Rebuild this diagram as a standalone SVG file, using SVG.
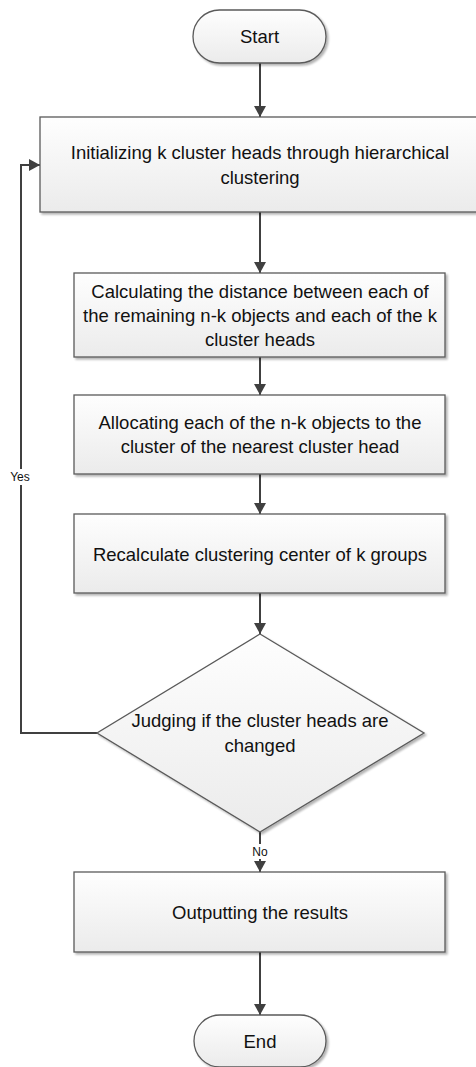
<svg xmlns="http://www.w3.org/2000/svg" width="476" height="1067" viewBox="0 0 476 1067">
<defs>
<linearGradient id="fill" x1="0" y1="0" x2="0" y2="1">
<stop offset="0" stop-color="#fefefe"/>
<stop offset="1" stop-color="#ebebeb"/>
</linearGradient>
<filter id="shadow" x="-5%" y="-5%" width="115%" height="120%">
<feGaussianBlur in="SourceAlpha" stdDeviation="1.2"/>
<feOffset dx="2" dy="2" result="b"/>
<feComponentTransfer><feFuncA type="linear" slope="0.3"/></feComponentTransfer>
<feMerge><feMergeNode/><feMergeNode in="SourceGraphic"/></feMerge>
</filter>
<marker id="arrow" markerUnits="userSpaceOnUse" markerWidth="12" markerHeight="12" refX="11" refY="6" orient="auto">
<path d="M0,0 L11,6 L0,12 z" fill="#404040"/>
</marker>
</defs>
<style>
.shape{fill:url(#fill);stroke:#5a5a5a;stroke-width:1.3;filter:url(#shadow)}
.txt{font-family:"Liberation Sans",Arial,sans-serif;font-size:18.5px;fill:#111;text-anchor:middle}
.lbl{font-family:"Liberation Sans",Arial,sans-serif;font-size:12px;fill:#111;text-anchor:middle}
.conn{fill:none;stroke:#404040;stroke-width:2;marker-end:url(#arrow)}
.line{fill:none;stroke:#404040;stroke-width:2}
</style>
<g id="connectors">
<line class="conn" x1="260" y1="63" x2="260" y2="117"/>
<line class="conn" x1="260" y1="212" x2="260" y2="273"/>
<line class="conn" x1="260" y1="357" x2="260" y2="395"/>
<line class="conn" x1="260" y1="474" x2="260" y2="514"/>
<line class="conn" x1="260" y1="593" x2="260" y2="634"/>
<line class="line" x1="260" y1="832" x2="260" y2="844"/>
<line class="conn" x1="260" y1="859" x2="260" y2="872"/>
<text class="lbl" x="260" y="856">No</text>
<line class="conn" x1="260" y1="952" x2="260" y2="1015"/>
<polyline class="line" points="97,733 21,733 21,485"/>
<polyline class="conn" points="21,469 21,165 40,165"/>
<text class="lbl" x="20" y="481">Yes</text>
</g>
<g id="start">
<rect class="shape" x="193" y="10" width="133" height="53" rx="26.5" ry="26.5"/>
<text class="txt" x="259.5" y="43">Start</text>
</g>
<g id="init">
<rect class="shape" x="40" y="117" width="445" height="95"/>
<text class="txt" x="260" y="159">Initializing k cluster heads through hierarchical</text>
<text class="txt" x="260" y="184">clustering</text>
</g>
<g id="distance">
<rect class="shape" x="74" y="273" width="371" height="84"/>
<text class="txt" x="260" y="297.5">Calculating the distance between each of</text>
<text class="txt" x="260" y="321.5">the remaining n-k objects and each of the k</text>
<text class="txt" x="260" y="345.5">cluster heads</text>
</g>
<g id="allocate">
<rect class="shape" x="74" y="395" width="371" height="79"/>
<text class="txt" x="260" y="429">Allocating each of the n-k objects to the</text>
<text class="txt" x="260" y="453">cluster of the nearest cluster head</text>
</g>
<g id="recalc">
<rect class="shape" x="74" y="514" width="371" height="79"/>
<text class="txt" x="260" y="560.5">Recalculate clustering center of k groups</text>
</g>
<g id="judge">
<polygon class="shape" points="260,634 424,733 260,832 97,733"/>
<text class="txt" x="260" y="727">Judging if the cluster heads are</text>
<text class="txt" x="260" y="752">changed</text>
</g>
<g id="output">
<rect class="shape" x="74" y="872" width="371" height="80"/>
<text class="txt" x="260" y="919">Outputting the results</text>
</g>
<g id="end">
<rect class="shape" x="194" y="1015" width="132" height="52" rx="26" ry="26"/>
<text class="txt" x="260" y="1048">End</text>
</g>
</svg>
